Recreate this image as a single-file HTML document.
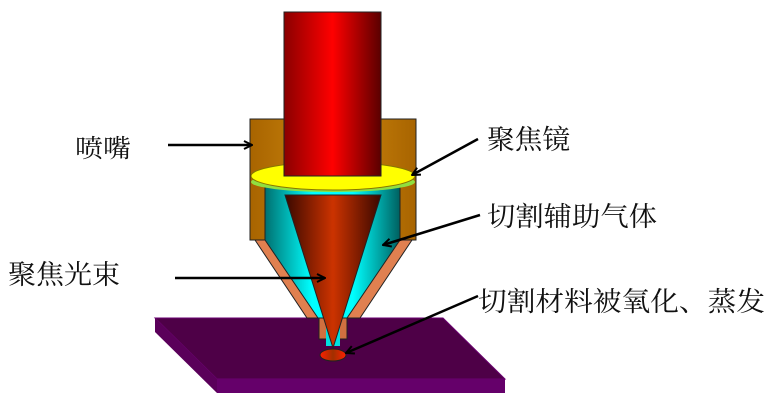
<!DOCTYPE html>
<html><head><meta charset="utf-8"><style>
body{margin:0;width:775px;height:411px;background:#fff;overflow:hidden}
svg{display:block}
text{font-family:"Liberation Serif","Noto Serif CJK SC",serif;font-size:27px;fill:#111}
</style></head><body>
<svg width="775" height="411" viewBox="0 0 775 411">
<defs>
<linearGradient id="red" x1="0" x2="1"><stop offset="0" stop-color="#8a0000"/><stop offset="0.5" stop-color="#ff0000"/><stop offset="1" stop-color="#5a0000"/></linearGradient>
<linearGradient id="brown" x1="0" x2="1"><stop offset="0" stop-color="#a86400"/><stop offset="0.5" stop-color="#d08a10"/><stop offset="1" stop-color="#a86400"/></linearGradient>
<linearGradient id="cyan" x1="0" x2="1"><stop offset="0" stop-color="#007070"/><stop offset="0.35" stop-color="#00ffff"/><stop offset="0.65" stop-color="#00ffff"/><stop offset="1" stop-color="#006060"/></linearGradient>
<linearGradient id="cone" x1="0" x2="1"><stop offset="0" stop-color="#3a0800"/><stop offset="0.5" stop-color="#cc3300"/><stop offset="1" stop-color="#3a0800"/></linearGradient>
<linearGradient id="spot" x1="0" x2="1"><stop offset="0" stop-color="#ff2000"/><stop offset="0.5" stop-color="#a03000"/><stop offset="1" stop-color="#ff2000"/></linearGradient>
<marker id="ah" markerWidth="10" markerHeight="10" refX="9" refY="5" orient="auto" markerUnits="userSpaceOnUse"><path d="M1,1 L9,5 L1,9" fill="none" stroke="#000" stroke-width="2"/></marker>
</defs>
<polygon points="155,318 443,318 505,379 217,379" fill="#4e0047" stroke="#6a0070"/>
<polygon points="217,379 505,379 505,393 217,393" fill="#65006a"/>
<polygon points="155,318 217,379 217,393 155,332" fill="#5a005a"/>
<polygon points="255,240 412,240 360,318 307,318" fill="#e08050" stroke="#222" stroke-width="1"/>
<rect x="250" y="119" width="166" height="121" fill="url(#brown)" stroke="#222"/>
<polygon points="265,186 400,186 400,240 347,318 318,318 265,240" fill="url(#cyan)" stroke="#222"/>
<rect x="319" y="318" width="28" height="21" fill="#d07040" stroke="#222"/>
<rect x="326" y="318" width="14" height="28" fill="#00e0e0"/>
<ellipse cx="333" cy="182" rx="82" ry="10" fill="#90e040"/>
<ellipse cx="333" cy="176" rx="82" ry="14" fill="#ffff00" stroke="#887700"/>
<rect x="284" y="12" width="97" height="164" fill="url(#red)" stroke="#222"/>
<polygon points="285,195 381,195 333,348" fill="url(#cone)" stroke="#222"/>
<ellipse cx="333" cy="355" rx="13" ry="6" fill="url(#spot)" stroke="#222"/>
<g stroke="#000" stroke-width="2.5" marker-end="url(#ah)">
<line x1="168" y1="145" x2="252" y2="145"/>
<line x1="478" y1="139" x2="412" y2="175"/>
<line x1="480" y1="215" x2="383" y2="245"/>
<line x1="175" y1="278" x2="325" y2="278"/>
<line x1="478" y1="296" x2="346" y2="353"/>
</g>
<text x="75" y="157" style="font-size:25px" textLength="56" lengthAdjust="spacingAndGlyphs">喷嘴</text>
<text x="8" y="284" textLength="112" lengthAdjust="spacingAndGlyphs">聚焦光束</text>
<text x="487" y="149" textLength="83" lengthAdjust="spacingAndGlyphs">聚焦镜</text>
<text x="487" y="226" textLength="170" lengthAdjust="spacingAndGlyphs">切割辅助气体</text>
<text x="478" y="311" textLength="287" lengthAdjust="spacingAndGlyphs">切割材料被氧化、蒸发</text>
</svg>
</body></html>
